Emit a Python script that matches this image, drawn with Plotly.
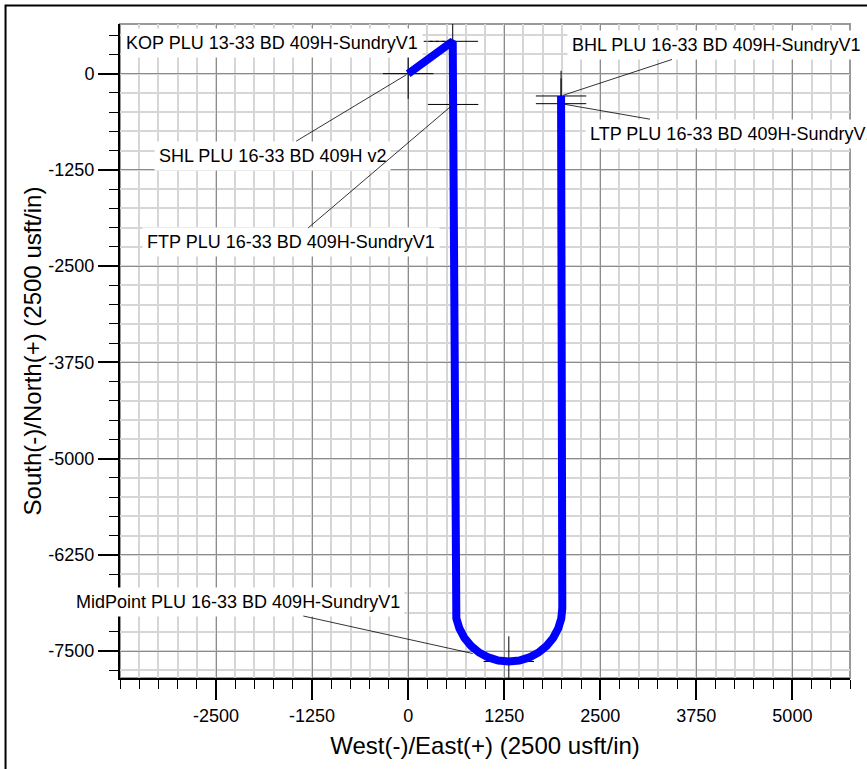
import plotly.graph_objects as go

# ---- data (usft) ----
path_ew = [0, 580, 585, 614, 627, 667, 731, 818, 923, 1044, 1174, 1310,
           1446, 1576, 1697, 1802, 1889, 1953, 1993, 2006, 1990, 1990]
path_ns = [0, 420, -400, -6940, -7076, -7206, -7327, -7432, -7519, -7583, -7623, -7636,
           -7623, -7583, -7519, -7432, -7327, -7206, -7076, -6940, -390, -290]

mark_names = ["SHL", "KOP", "FTP", "LTP", "BHL", "MidPoint"]
mark_ew = [0, 580, 585, 1990, 1990, 1310]
mark_ns = [0, 420, -400, -390, -290, -7636]
mark_labels = [
    "SHL PLU 16-33 BD 409H v2",
    "KOP PLU 13-33 BD 409H-SundryV1",
    "FTP PLU 16-33 BD 409H-SundryV1",
    "LTP PLU 16-33 BD 409H-SundryV1",
    "BHL PLU 16-33 BD 409H-SundryV1",
    "MidPoint PLU 16-33 BD 409H-SundryV1",
]
x_ticks = [-2500, -1250, 0, 1250, 2500, 3750, 5000]
y_ticks = [0, -1250, -2500, -3750, -5000, -6250, -7500]

# label offsets in pixels (layout only)
label_off = {
    "SHL": (-136, 82, 2),
    "KOP": (-181, 1.5, 0),
    "FTP": (-162, 138, 3),
    "LTP": (172, 30, 3),
    "BHL": (155, -51, 2),
    "MidPoint": (-271, -60, 37),
}

FONT = "Liberation Sans, Arial, sans-serif"

fig = go.Figure()
fig.add_trace(go.Scatter(
    x=mark_ew, y=mark_ns, mode="markers", hoverinfo="skip",
    marker=dict(symbol="cross-thin", size=36, color="black",
                line=dict(color="black", width=1)),
    showlegend=False))
fig.add_trace(go.Scatter(
    x=path_ew, y=path_ns, mode="lines", hoverinfo="skip",
    line=dict(color="#0000FF", width=8), showlegend=False))

for name, lab, xv, yv in zip(mark_names, mark_labels, mark_ew, mark_ns):
    ax, ay, so = label_off[name]
    if name == "KOP":
        fig.add_annotation(x=xv, y=yv, text=lab, showarrow=False,
                           xshift=ax, yshift=-ay, bgcolor="white", borderpad=4,
                           font=dict(family=FONT, size=18, color="black"))
        fig.add_shape(type="line", xref="x", yref="y",
                      xsizemode="pixel", ysizemode="pixel",
                      xanchor=xv, yanchor=yv, x0=-35, x1=0, y0=0, y1=0,
                      line=dict(color="black", width=1, dash="dot"))
    else:
        fig.add_annotation(x=xv, y=yv, text=lab, showarrow=True, arrowhead=0,
                           arrowwidth=0.8, arrowcolor="black", ax=ax, ay=ay,
                           standoff=so, bgcolor="white", borderpad=4,
                           font=dict(family=FONT, size=18, color="black"))

# outer frame (left/top visible) and gray plot border top/right
fig.add_shape(type="rect", xref="paper", yref="paper",
              x0=-0.1568, x1=1.3, y0=-0.4, y1=1.0283,
              line=dict(color="black", width=2))
fig.add_shape(type="rect", xref="paper", yref="paper",
              x0=0, x1=1, y0=0, y1=1, layer="below",
              line=dict(color="#9a9a9a", width=2))

axis_common = dict(
    showline=True, linecolor="black", linewidth=2,
    ticks="outside", ticklen=20, tickwidth=1.5, tickcolor="black",
    showgrid=True, gridcolor="#8c8c8c", gridwidth=1, zeroline=False,
    tickfont=dict(family=FONT, size=18, color="black"),
    minor=dict(dtick=250, tick0=0, ticks="outside", ticklen=9, tickwidth=1,
               tickcolor="black", showgrid=True, gridcolor="#d6d6d6", gridwidth=1.5),
)

fig.update_layout(
    width=867, height=769,
    margin=dict(l=120, r=17, t=24, b=91),
    paper_bgcolor="white", plot_bgcolor="white",
    xaxis=dict(range=[-3750, 5750], tickmode="array", tickvals=x_ticks,
               ticktext=[str(v) for v in x_ticks],
               title=dict(text="West(-)/East(+) (2500 usft/in)",
                          font=dict(family=FONT, size=24, color="black"), standoff=13),
               **axis_common),
    yaxis=dict(range=[-7850, 645], tickmode="array", tickvals=y_ticks,
               ticktext=[str(v) for v in y_ticks],
               title=dict(text="South(-)/North(+) (2500 usft/in)",
                          font=dict(family=FONT, size=24, color="black"), standoff=0),
               **axis_common),
)

fig.write_html("out.html", config={"displayModeBar": False},
               post_script="document.body.style.margin='0';document.body.style.overflow='hidden';")
